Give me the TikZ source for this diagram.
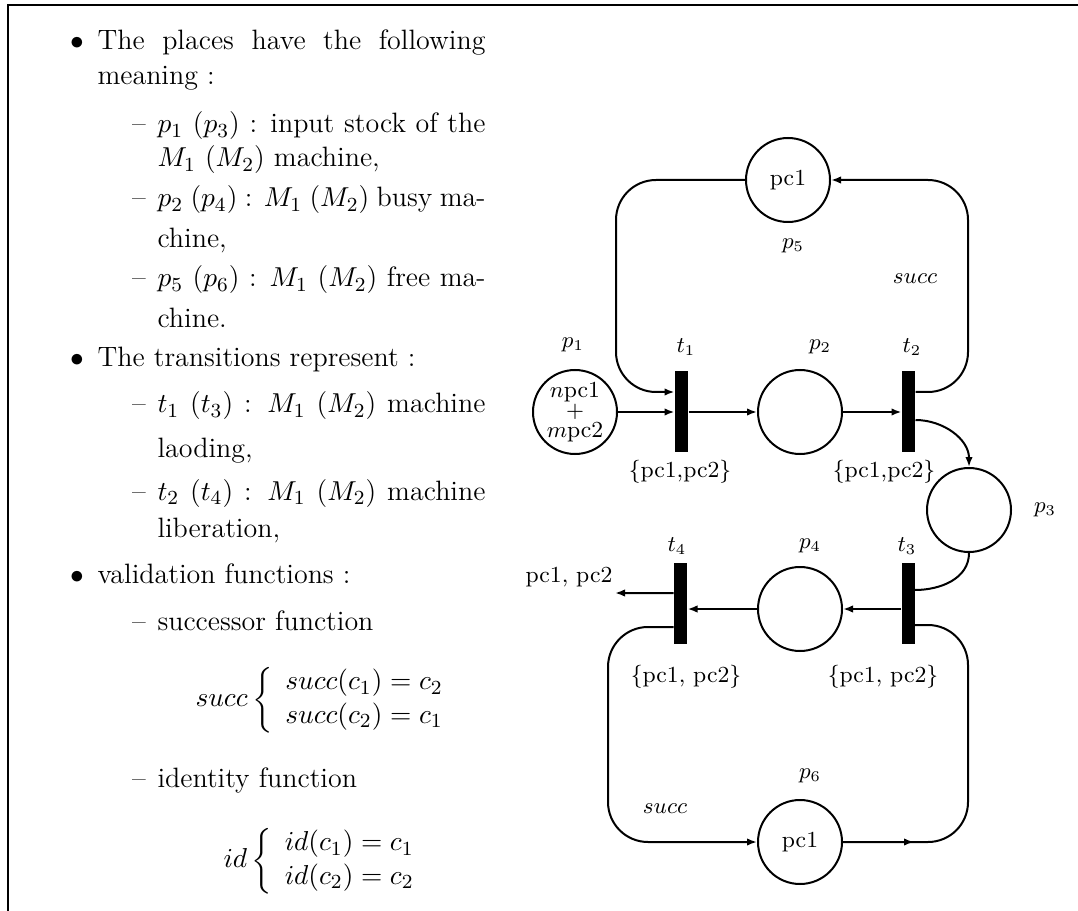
\documentclass[tikz,border=0pt]{standalone}
\usepackage{amsmath}
\usetikzlibrary{arrows.meta}
\newcommand\netfont{\fontsize{9.2}{11}\selectfont}
\newcommand\txtfont{\fontsize{11.2}{13.4}\selectfont}
\newcommand\tightfont{\fontsize{9.2}{8}\selectfont\lineskiplimit=-20pt\lineskip=0pt}
\begin{document}
\begin{tikzpicture}[x=0.4pt,y=-0.4pt,
  place/.style={draw,circle,line width=0.8pt,minimum size=33.6pt,inner sep=0pt,font=\netfont},
  trans/.style={rectangle,fill=black,draw=none,minimum width=5.2pt,minimum height=32.4pt,inner sep=0pt},
  arc/.style={line width=0.8pt},
  arr/.style={arc,-{Latex[length=4pt,width=3pt]}},
  lbl/.style={font=\netfont,inner sep=0pt},
  txt/.style={anchor=base west,inner sep=0pt,font=\txtfont},
  itemmark/.style={anchor=base,inner sep=0pt,font=\txtfont},
]
\useasboundingbox (0,0) rectangle (1078,911);
% frame
\draw[line width=0.9pt] (8,911) -- (8,5) -- (1078,5);

% ---------------- text column ----------------
\node[itemmark] (b1) at (77,50) {$\bullet$};
\node[txt] (l1) at (97,50) {\makebox[155.2pt][s]{The places have the following}};
\node[txt] (l2) at (97,85) {meaning :};
\node[itemmark] (d1) at (139,133) {\textendash};
\node[txt] (l3) at (157,133) {\makebox[131.2pt][s]{$p_1$ ($p_3$) : input stock of the}};
\node[txt] (l4) at (157,167) {$M_1$ ($M_2$) machine,};
\node[itemmark] (d2) at (139,207) {\textendash};
\node[txt] (l5) at (157,207) {\makebox[131.2pt][s]{$p_2$ ($p_4$) : $M_1$ ($M_2$) busy ma-}};
\node[txt] (l6) at (157,248) {chine,};
\node[itemmark] (d3) at (139,287) {\textendash};
\node[txt] (l7) at (157,287) {\makebox[131.2pt][s]{$p_5$ ($p_6$) : $M_1$ ($M_2$) free ma-}};
\node[txt] (l8) at (157,328) {chine.};
\node[itemmark] (b2) at (77,367) {$\bullet$};
\node[txt] (l9) at (97,367) {The transitions represent :};
\node[itemmark] (d4) at (139,413) {\textendash};
\node[txt] (l10) at (157,413) {\makebox[131.2pt][s]{$t_1$ ($t_3$) : $M_1$ ($M_2$) machine}};
\node[txt] (l11) at (157,457) {laoding,};
\node[itemmark] (d5) at (139,500) {\textendash};
\node[txt] (l12) at (157,500) {\makebox[131.2pt][s]{$t_2$ ($t_4$) : $M_1$ ($M_2$) machine}};
\node[txt] (l13) at (157,537) {liberation,};
\node[itemmark] (b3) at (77,583) {$\bullet$};
\node[txt] (l14) at (97,583) {validation functions :};
\node[itemmark] (d6) at (139,630) {\textendash};
\node[txt] (l15) at (157,630) {successor function};
\node[anchor=west,inner sep=0pt,font=\txtfont] (eq1) at (195,700)
  {$succ\left\{\begin{array}{l} succ(c_1)=c_2\\ succ(c_2)=c_1\end{array}\right.$};
\node[itemmark] (d7) at (139,787) {\textendash};
\node[txt] (l16) at (157,787) {identity function};
\node[anchor=west,inner sep=0pt,font=\txtfont] (eq2) at (223,861)
  {$id\left\{\begin{array}{l} id(c_1)=c_1\\ id(c_2)=c_2\end{array}\right.$};

% ---------------- Petri net ----------------
\node[place] (p5) at (788,180) {pc1};
\node[place,align=center,font=\tightfont] (p1) at (575,412) {$n$pc1\\$+$\\$m$pc2};
\node[trans] (t1) at (681.5,411.5) {};
\node[place] (p2) at (800,412) {};
\node[trans] (t2) at (908.5,411.5) {};
\node[place] (p3) at (969,510) {};
\node[trans] (t3) at (908,603) {};
\node[place] (p4) at (800,609) {};
\node[trans] (t4) at (680.5,603) {};
\node[place] (p6) at (800,842) {pc1};

% labels
\node[lbl] (lp1) at (573,345) {$p_1$};
\node[lbl] (lt1) at (686,347) {$t_1$};
\node[lbl] (lp2) at (820,347) {$p_2$};
\node[lbl] (lt2) at (912,347) {$t_2$};
\node[lbl] (lp5) at (793,246) {$p_5$};
\node[lbl] (ls1) at (915,279) {$succ$};
\node[lbl] (lp3) at (1045,510) {$p_3$};
\node[lbl] (lt4) at (677,546) {$t_4$};
\node[lbl] (lp4) at (810,546) {$p_4$};
\node[lbl] (lt3) at (907,546) {$t_3$};
\node[lbl] (lp6) at (810,776) {$p_6$};
\node[lbl] (ls2) at (665,809) {$succ$};
\node[lbl] (g1) at (680,472) {\{pc1,pc2\}};
\node[lbl] (g2) at (884,472) {\{pc1,pc2\}};
\node[lbl] (g3) at (686,677) {\{pc1, pc2\}};
\node[lbl] (g4) at (883,677) {\{pc1, pc2\}};
\node[lbl] (gout) at (569,577) {pc1, pc2};

% arcs
\draw[arr] (p1) -- (t1.west |- p1);
\draw[arr] (t1.east |- p2) -- (p2);
\draw[arr] (p2) -- (t2.west |- p2);
\draw[arr,rounded corners=16pt] (p5.west) -- (616,180) -- (616,392) -- ([yshift=7.8pt]t1.west);
\draw[arr,rounded corners=16pt] ([yshift=7.8pt]t2.east) -- (968,392) -- (968,180) -- (p5.east);
\draw[arr] ([yshift=-3.4pt]t2.east) to[out=0,in=90] (p3.north);
\draw[arc] (p3.south) to[out=-90,in=0] ([yshift=5.2pt]t3.east);
\draw[arr] (t3.west |- p4) -- (p4);
\draw[arr] (p4) -- (t4.east |- p4);
\coordinate (out) at (615,593);
\draw[arr] ([yshift=4pt]t4.west) -- (out);
\draw[arr,rounded corners=16pt] ([yshift=-9.6pt]t4.west) -- (608,627) -- (608,842) -- (p6.west);
\coordinate (m6) at (914,842);
\draw[arc,rounded corners=16pt] (p6.east) -- (968,842) -- (968,625) -- ([yshift=-8.8pt]t3.east);
\draw[arr] (p6.east) -- (m6);
\end{tikzpicture}
\end{document}
